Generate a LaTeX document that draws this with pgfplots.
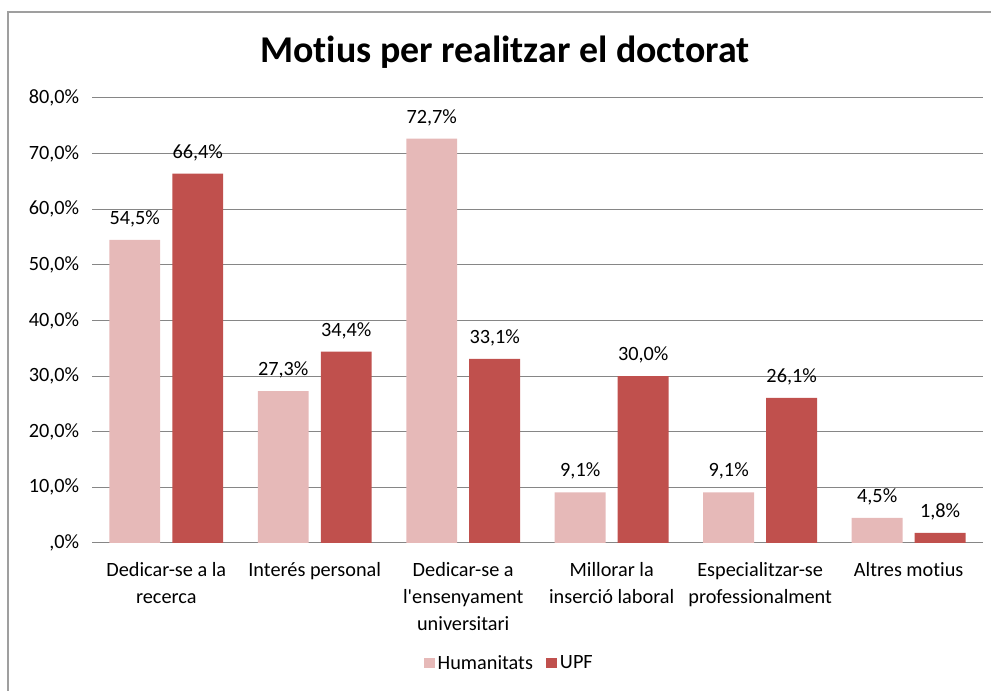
\documentclass[border=0pt]{standalone}
\usepackage{pgfplots}
\pgfplotsset{compat=1.18}
\usepackage{fontspec}
\setmainfont{Carlito}[Ligatures=NoCommon]
\definecolor{hum}{HTML}{E6B9B8}
\definecolor{upf}{HTML}{C0504D}
\definecolor{gridc}{HTML}{868686}
\begin{document}
\begin{tikzpicture}
\path[use as bounding box] (-68.1pt,-109.5pt) rectangle (665.3pt,401.8pt);
\draw[color=gray!75, line width=1pt] (-62.2pt,-112pt) -- (-62.2pt,392.9pt) -- (668pt,392.9pt);
\node[font=\fontsize{28}{32}\selectfont\bfseries] at (305.6pt,363pt) {Motius per realitzar el doctorat};
\begin{axis}[
  scale only axis, width=659.3pt, height=329.3pt,
  at={(0pt,0pt)}, anchor=south west,
  ybar, bar width=37.7pt,
  xmin=-0.5, xmax=5.5, ymin=0, ymax=80,
  xtick={0,1,2,3,4,5},
  xticklabels={{Dedicar-se a la\\recerca},{Interés personal},{Dedicar-se a\\l\textquotesingle ensenyament\\universitari},{Millorar la\\inserció laboral},{Especialitzar-se\\professionalment},{Altres motius}},
  xticklabel style={align=center, font=\fontsize{15}{20}\selectfont, yshift=-11pt},
  ytick={0,10,20,30,40,50,60,70,80},
  yticklabels={{,0\%},{10,0\%},{20,0\%},{30,0\%},{40,0\%},{50,0\%},{60,0\%},{70,0\%},{80,0\%}},
  yticklabel style={font=\fontsize{15}{18}\selectfont, xshift=-6pt},
  major tick length=0pt,
  axis x line*=bottom, axis y line*=left,
  y axis line style={draw=none},
  x axis line style={draw=gridc, line width=0.7pt, -},
  ymajorgrids, grid style={draw=gridc, line width=0.7pt},
  nodes near coords={\pgfmathprintnumber[fixed,fixed zerofill,precision=1,use comma,assume math mode=true]{\pgfplotspointmeta}\%},
  nodes near coords style={font=\fontsize{15}{18}\selectfont, black},
  every node near coord/.append style={yshift=6pt},
  legend columns=2,
  legend style={at={(0.469,-0.27)}, anchor=center, draw=none, font=\fontsize{15}{18}\selectfont,
    /tikz/every even column/.append style={column sep=8pt}},
  legend image code/.code={\fill[#1] (0pt,-4pt) rectangle (8pt,4pt);},
  clip=false,
]
\addplot[fill=hum, draw=none, bar shift=-23.3pt] coordinates {(0,54.5) (1,27.3) (2,72.7) (3,9.1) (4,9.1) (5,4.5)};
\addplot[fill=upf, draw=none, bar shift=23.3pt] coordinates {(0,66.4) (1,34.4) (2,33.1) (3,30.0) (4,26.1) (5,1.8)};
\legend{Humanitats, UPF}
\end{axis}
\end{tikzpicture}
\end{document}
